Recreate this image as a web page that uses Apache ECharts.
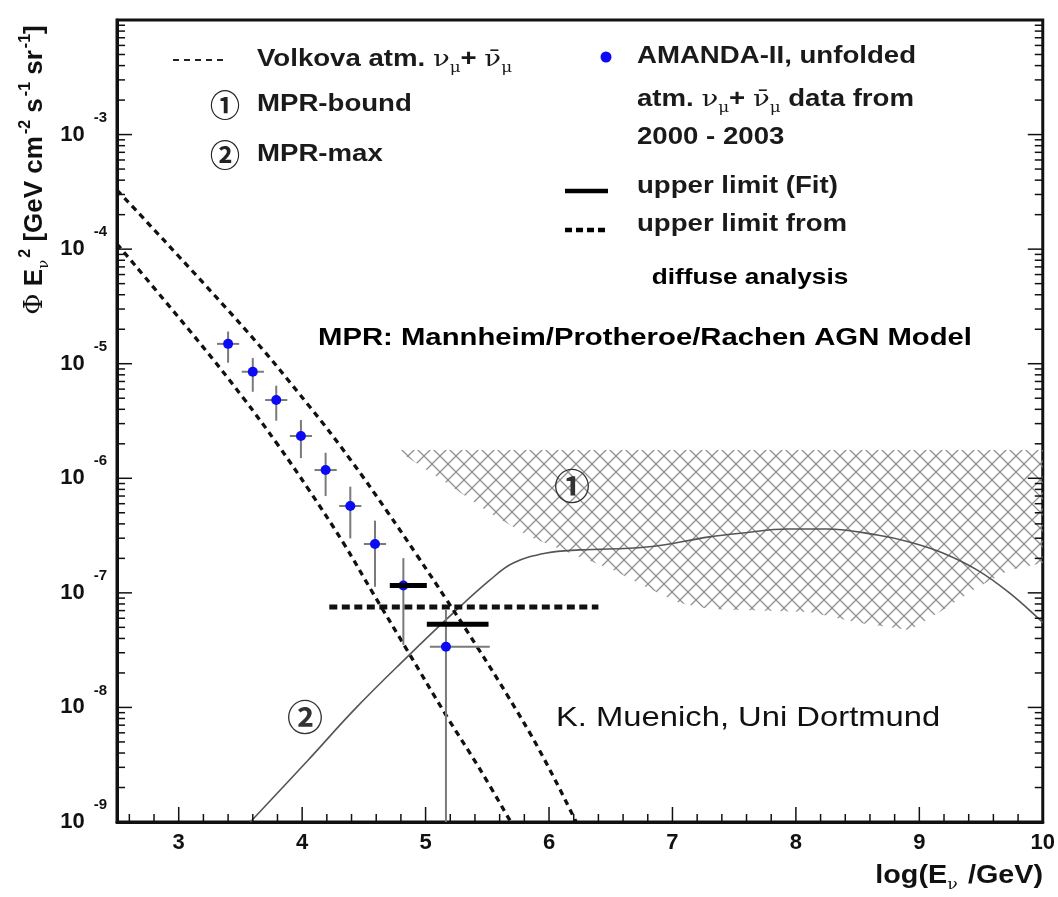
<!DOCTYPE html>
<html><head><meta charset="utf-8">
<script src="https://cdn.jsdelivr.net/npm/echarts@6/dist/echarts.min.js"></script>
<style>html,body{margin:0;padding:0;background:#fff;}#c{width:1058px;height:897px;}</style>
</head><body><div id="c"></div>
<script>
// ---------- axis ticks ----------
const xMinorTicks = [2.6,2.8,3.2,3.4,3.6,3.8,4.2,4.4,4.6,4.8,5.2,5.4,5.6,5.8,6.2,6.4,6.6,6.8,7.2,7.4,7.6,7.8,8.2,8.4,8.6,8.8,9.2,9.4,9.6,9.8];
const xMajorTicks = [3,4,5,6,7,8,9,10];
const yDecadeExponents = [-9,-8,-7,-6,-5,-4,-3,-2];
const yMinorMantissas = [2,3,4,5,6,7,8,9];

// ---------- AMANDA-II unfolded points ----------
const amandaX     = [3.40, 3.60, 3.79, 3.99, 4.19, 4.39, 4.59, 4.82, 5.165];
const amandaY     = [1.49e-5, 8.51e-6, 4.82e-6, 2.34e-6, 1.18e-6, 5.73e-7, 2.67e-7, 1.16e-7, 3.39e-8];
const amandaYHigh = [1.91e-5, 1.12e-5, 6.43e-6, 3.23e-6, 1.67e-6, 8.45e-7, 4.27e-7, 2.01e-7, 7.08e-8];
const amandaYLow  = [1.02e-5, 5.69e-6, 3.18e-6, 1.50e-6, 7.0e-7, 2.99e-7, 1.13e-7, 3.51e-8, 1.0e-9];
const amandaXLow  = [3.31, 3.51, 3.70, 3.90, 4.10, 4.30, 4.50, 4.73, 5.035];
const amandaXHigh = [3.49, 3.69, 3.88, 4.08, 4.28, 4.48, 4.68, 4.91, 5.52];

// ---------- upper limits ----------
const fitLimit1X = [4.71, 5.01]; const fitLimit1Y = 1.16e-7;
const fitLimit2X = [5.01, 5.51]; const fitLimit2Y = 5.32e-8;
const diffuseLimitX = [4.22, 6.40]; const diffuseLimitY = 7.53e-8;

// ---------- Volkova atmospheric curves ----------
const volkUpperX = [2.5, 3.52, 4.06, 4.39, 4.69, 4.93, 5.17, 5.42, 5.66, 5.93, 6.22];
const volkUpperY = [3.28e-4, 2.10e-5, 4.23e-6, 1.46e-6, 5.11e-7, 2.13e-7, 8.71e-8, 3.35e-8, 1.29e-8, 4.09e-9, 1.0e-9];
const volkLowerX = [2.5, 3.17, 3.52, 3.80, 4.06, 4.33, 4.57, 4.85, 5.17, 5.44, 5.69];
const volkLowerY = [1.11e-4, 1.52e-5, 5.07e-6, 1.98e-6, 7.76e-7, 2.77e-7, 1.01e-7, 3.17e-8, 8.41e-9, 2.89e-9, 1.0e-9];

// ---------- MPR-max (2) ----------
const mprMaxX = [3.58, 4.04, 4.44, 4.85, 5.22, 5.52, 5.71, 5.98, 6.25, 6.79, 7.30, 7.57, 7.93, 8.25, 8.66, 8.92, 9.19, 9.47, 9.73, 9.98, 10.0];
const mprMaxY = [1.0e-9, 3.39e-9, 1.0e-8, 2.75e-8, 6.61e-8, 1.29e-7, 1.82e-7, 2.23e-7, 2.37e-7, 2.51e-7, 3.08e-7, 3.33e-7, 3.61e-7, 3.61e-7, 3.20e-7, 2.78e-7, 2.23e-7, 1.58e-7, 1.0e-7, 5.79e-8, 5.5e-8];

// ---------- MPR-bound (1) hatched band ----------
const hatchTopX = [4.79, 10.0];
const hatchTopY = [1.77e-6, 1.77e-6];
const hatchLowX = [10.0, 9.73, 9.47, 9.19, 8.92, 8.52, 8.11, 7.57, 7.30, 7.06, 6.79, 6.52, 6.25, 5.85, 5.52, 5.17, 4.79];
const hatchLowY = [1.82e-7, 1.58e-7, 1.12e-7, 7.08e-8, 4.74e-8, 5.46e-8, 6.81e-8, 7.08e-8, 7.24e-8, 8.15e-8, 1.12e-7, 1.58e-7, 2.06e-7, 3.08e-7, 4.98e-7, 9.1e-7, 1.70e-6];

// ---------- build helpers ----------
const zip = (xs, ys) => xs.map((x, i) => [x, ys[i]]);
const yMajorTicks = yDecadeExponents.map(e => Math.pow(10, e));
const yMinorTicks = [];
yDecadeExponents.slice(0, -1).forEach(e => yMinorMantissas.forEach(m => yMinorTicks.push(m * Math.pow(10, e))));

const pc = document.createElement('canvas'); pc.width = 16; pc.height = 16;
const g = pc.getContext('2d'); g.strokeStyle = '#8e8e8e'; g.lineWidth = 1.25;
g.beginPath();
[-16, 0, 16].forEach(o => { g.moveTo(o, 0); g.lineTo(o + 16, 16); g.moveTo(o + 16, 0); g.lineTo(o, 16); });
g.stroke();

const SANS = 'Liberation Sans, Arial, Helvetica, sans-serif';
const SERIF = 'DejaVu Serif, Liberation Serif, serif';
const CIRC = 'Noto Sans CJK JP, DejaVu Sans';
const TXT = '#1a1a1a';

function xTickSeries(values, len) {
  return { type: 'custom', silent: true, z: 5, data: values.map(v => [v, 1e-5]),
    renderItem: (params, api) => {
      const cs = params.coordSys; const px = api.coord([api.value(0), 1e-5])[0];
      const yb = cs.y + cs.height;
      return { type: 'line', shape: { x1: px, y1: yb, x2: px, y2: yb - len }, style: { stroke: '#111', lineWidth: 1.5 } };
    } };
}
function yTickSeries(values, len) {
  return { type: 'custom', silent: true, z: 5, data: values.map(v => [5, v]),
    renderItem: (params, api) => {
      const cs = params.coordSys; const py = api.coord([5, api.value(1)])[1];
      const xl = cs.x, xr = cs.x + cs.width;
      return { type: 'group', children: [
        { type: 'line', shape: { x1: xl, y1: py, x2: xl + len, y2: py }, style: { stroke: '#111', lineWidth: 1.5 } },
        { type: 'line', shape: { x1: xr, y1: py, x2: xr - len, y2: py }, style: { stroke: '#111', lineWidth: 1.5 } }
      ] };
    } };
}

const richLegend = {
  b: { fontSize: 23, fontWeight: 'bold', fontFamily: SANS, lineHeight: 28, fill: TXT },
  g: { fontSize: 23, fontFamily: SERIF, lineHeight: 28, fill: TXT },
  s: { fontSize: 14, fontFamily: SERIF, lineHeight: 14, padding: [16, 0, 0, 0], fill: TXT }
};
function legendText(x, y, text) {
  return { type: 'text', x: x, y: y, scaleX: 1.2, z: 20,
    style: { text: text, rich: richLegend, fontSize: 23, fontWeight: 'bold', fontFamily: SANS, fill: TXT,
      align: 'left', textAlign: 'left', verticalAlign: 'middle', textVerticalAlign: 'middle' } };
}
function circled(x, y, ch, size, color) {
  return { type: 'text', x: x, y: y, z: 20, style: { text: ch, fontSize: size, fontWeight: 'bold', fontFamily: CIRC, fill: color,
    align: 'center', textAlign: 'center', verticalAlign: 'middle', textVerticalAlign: 'middle' } };
}

const chart = echarts.init(document.getElementById('c'), null, { renderer: 'canvas' });
chart.setOption({
  animation: false,
  backgroundColor: '#fff',
  grid: { left: 117, right: 15, top: 20, bottom: 75, show: true, borderColor: '#111', borderWidth: 3, backgroundColor: 'transparent' },
  xAxis: {
    type: 'value', min: 2.5, max: 10, interval: 0.5,
    axisLine: { show: true, lineStyle: { color: '#111', width: 3 } },
    axisTick: { show: false }, splitLine: { show: false },
    axisLabel: { margin: 10, fontSize: 22, fontWeight: 'bold', fontFamily: SANS, color: '#111',
      formatter: v => (Math.abs(v - Math.round(v)) < 1e-6 && xMajorTicks.indexOf(Math.round(v)) >= 0) ? String(Math.round(v)) : '' }
  },
  yAxis: {
    type: 'log', logBase: 10, min: 1e-9, max: 1e-2, splitNumber: 7,
    axisLine: { show: true, lineStyle: { color: '#111', width: 3 } },
    axisTick: { show: false }, splitLine: { show: false },
    axisLabel: { margin: 10,
      formatter: v => { const e = Math.round(Math.log10(v)); return e >= -2 ? '' : '{b|10}{s|' + e + '}'; },
      rich: {
        b: { fontSize: 22, fontWeight: 'bold', fontFamily: SANS, color: '#111', lineHeight: 22 },
        s: { fontSize: 15, fontWeight: 'bold', fontFamily: SANS, color: '#111', lineHeight: 15, padding: [0, 0, 34, 9] }
      } }
  },
  series: [
    { type: 'custom', silent: true, z: 1, data: [[hatchTopX[0], hatchTopY[0]]],
      renderItem: (params, api) => {
        const pts = [];
        hatchTopX.forEach((x, i) => pts.push(api.coord([x, hatchTopY[i]])));
        hatchLowX.forEach((x, i) => pts.push(api.coord([x, hatchLowY[i]])));
        return { type: 'polygon', shape: { points: pts }, style: { fill: { image: pc, repeat: 'repeat' }, stroke: null } };
      } },
    { type: 'line', name: 'MPR-max', data: zip(mprMaxX, mprMaxY), smooth: 0.4, symbol: 'none', z: 3,
      lineStyle: { color: '#555', width: 1.6 } },
    { type: 'line', name: 'Volkova upper', data: zip(volkUpperX, volkUpperY), smooth: 0.4, symbol: 'none', z: 4,
      lineStyle: { color: '#111', width: 3.3, type: [6, 5] } },
    { type: 'line', name: 'Volkova lower', data: zip(volkLowerX, volkLowerY), smooth: 0.4, symbol: 'none', z: 4,
      lineStyle: { color: '#111', width: 3.3, type: [6, 5] } },
    { type: 'line', name: 'upper limit diffuse', data: diffuseLimitX.map(x => [x, diffuseLimitY]), symbol: 'none', z: 6,
      lineStyle: { color: '#111', width: 5, type: [8, 4.5] } },
    { type: 'custom', name: 'errors', silent: true, z: 7,
      data: amandaX.map((x, i) => [x, amandaY[i], amandaXLow[i], amandaXHigh[i], amandaYLow[i], amandaYHigh[i]]),
      renderItem: (params, api) => {
        const x = api.value(0), y = api.value(1);
        const pL = api.coord([api.value(2), y]), pH = api.coord([api.value(3), y]);
        const pB = api.coord([x, api.value(4)]), pT = api.coord([x, api.value(5)]);
        const st = { stroke: '#7a7a7a', lineWidth: 2 };
        return { type: 'group', children: [
          { type: 'line', shape: { x1: pL[0], y1: pL[1], x2: pH[0], y2: pH[1] }, style: st },
          { type: 'line', shape: { x1: pT[0], y1: pT[1], x2: pB[0], y2: pB[1] }, style: st }
        ] };
      } },
    { type: 'scatter', name: 'AMANDA-II', data: zip(amandaX, amandaY), symbol: 'circle', symbolSize: 10, z: 8,
      itemStyle: { color: '#0a0af5', opacity: 1 } },
    { type: 'line', name: 'fit limit 1', data: fitLimit1X.map(x => [x, fitLimit1Y]), symbol: 'none', z: 9,
      lineStyle: { color: '#000', width: 5 } },
    { type: 'line', name: 'fit limit 2', data: fitLimit2X.map(x => [x, fitLimit2Y]), symbol: 'none', z: 9,
      lineStyle: { color: '#000', width: 5 } },
    xTickSeries(xMajorTicks, 15), xTickSeries(xMinorTicks, 8),
    yTickSeries(yMajorTicks, 15), yTickSeries(yMinorTicks, 8)
  ],
  graphic: [
    // left legend
    { type: 'line', z: 20, shape: { x1: 173, y1: 60, x2: 228, y2: 60 }, style: { stroke: '#222', lineWidth: 2, lineDash: [6, 5] } },
    legendText(257, 60, '{b|Volkova atm. }{g|ν}{s|μ}{b|+ }{g|ν\u0304}{s|μ}'),
    circled(225, 105, '①', 30, '#222'),
    legendText(257, 105, 'MPR-bound'),
    circled(225, 155, '②', 30, '#222'),
    legendText(257, 155, 'MPR-max'),
    // right legend
    { type: 'circle', z: 20, shape: { cx: 606, cy: 57, r: 5.5 }, style: { fill: '#0a0af5' } },
    legendText(637, 57, 'AMANDA-II, unfolded'),
    legendText(637, 100, '{b|atm. }{g|ν}{s|μ}{b|+ }{g|ν\u0304}{s|μ}{b| data from}'),
    legendText(637, 138, '2000 - 2003'),
    { type: 'line', z: 20, shape: { x1: 565, y1: 191, x2: 608, y2: 191 }, style: { stroke: '#000', lineWidth: 4.5 } },
    legendText(637, 187, 'upper limit (Fit)'),
    { type: 'line', z: 20, shape: { x1: 565, y1: 230, x2: 608, y2: 230 }, style: { stroke: '#000', lineWidth: 4.5, lineDash: [7, 4] } },
    legendText(637, 225, 'upper limit from'),
    { type: 'text', x: 750, y: 278, scaleX: 1.19, z: 20, style: { text: 'diffuse analysis', fontSize: 22, fontWeight: 'bold', fontFamily: SANS, fill: '#000', align: 'center', textAlign: 'center', verticalAlign: 'middle', textVerticalAlign: 'middle' } },
    { type: 'text', x: 645, y: 338, scaleX: 1.22, z: 20, style: { text: 'MPR: Mannheim/Protheroe/Rachen AGN Model', fontSize: 24, fontWeight: 'bold', fontFamily: SANS, fill: '#000', align: 'center', textAlign: 'center', verticalAlign: 'middle', textVerticalAlign: 'middle' } },
    { type: 'text', x: 556, y: 718, scaleX: 1.17, z: 20, style: { text: 'K. Muenich, Uni Dortmund', fontSize: 28, fontFamily: SANS, fill: '#111', align: 'left', textAlign: 'left', verticalAlign: 'middle', textVerticalAlign: 'middle' } },
    // curve labels
    circled(572, 486, '①', 36, '#333'),
    circled(305, 717, '②', 36, '#333'),
    // axis names
    { type: 'text', x: 1043, y: 876, scaleX: 1.15, z: 20, style: { text: '{b|log(E}{s|ν}{b| /GeV)}', align: 'right', textAlign: 'right', verticalAlign: 'middle', textVerticalAlign: 'middle',
      rich: { b: { fontSize: 25, fontWeight: 'bold', fontFamily: SANS, fill: '#111', lineHeight: 30 },
              s: { fontSize: 15, fontFamily: SERIF, fill: '#111', lineHeight: 15, padding: [18, 2, 0, 0] } } } },
    { type: 'text', x: 35, y: 170, rotation: Math.PI / 2, z: 20, style: { text: '{p|Φ}{b| E}{s|ν}{u|2}{b| [GeV cm}{u|-2}{b| s}{u|-1}{b| sr}{u|-1}{b|]}', align: 'center', textAlign: 'center', verticalAlign: 'middle', textVerticalAlign: 'middle',
      rich: { b: { fontSize: 26, fontWeight: 'bold', fontFamily: SANS, fill: '#111', lineHeight: 30 },
              p: { fontSize: 26, fontFamily: SERIF, fill: '#111', lineHeight: 30 },
              s: { fontSize: 15, fontFamily: SERIF, fill: '#111', lineHeight: 15, padding: [18, 0, 0, 0] },
              u: { fontSize: 16, fontWeight: 'bold', fontFamily: SANS, fill: '#111', lineHeight: 16, padding: [0, 0, 18, 2] } } } }
  ]
});
</script></body></html>
